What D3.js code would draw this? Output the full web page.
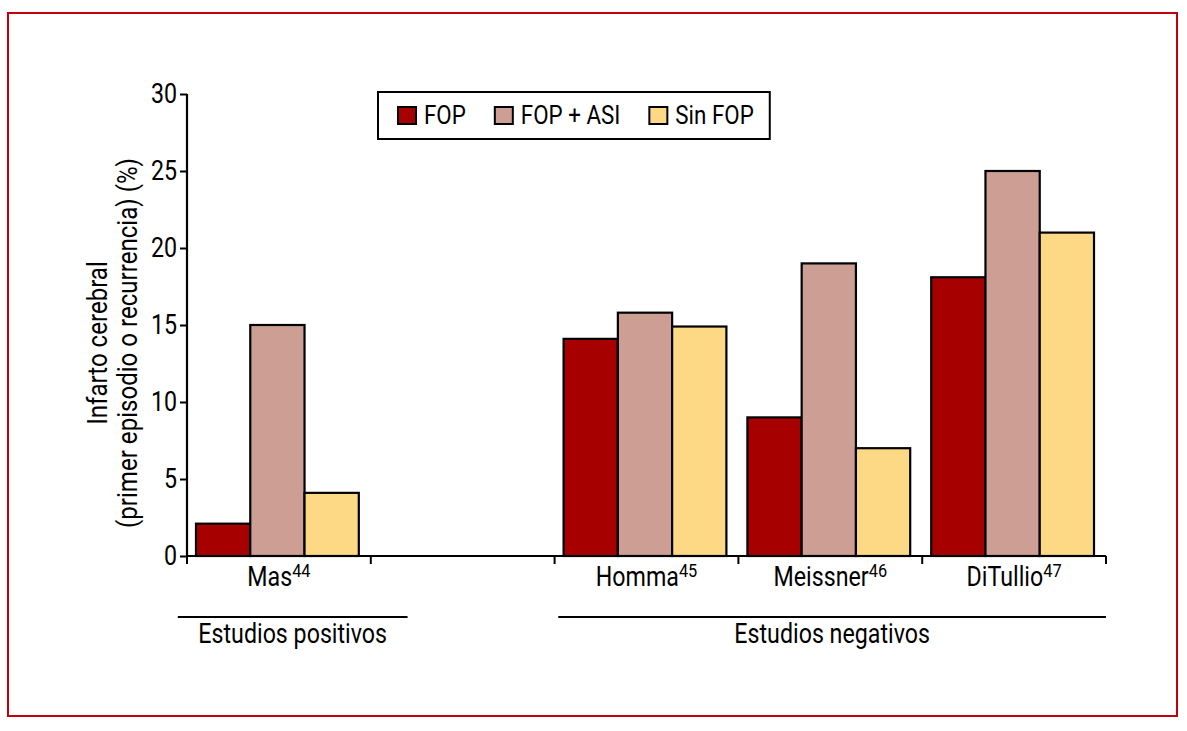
<!DOCTYPE html>
<html>
<head>
<meta charset="utf-8">
<script src="https://cdn.jsdelivr.net/npm/d3@7"></script>
<style>
  body { margin: 0; background: #fff; }
  svg text { font-family: 'Roboto', 'Liberation Sans', sans-serif; font-weight: 400; fill: #000; }
</style>
</head>
<body>
<svg id="chart"></svg>
<script>
// datos del gráfico
const studies = ['Mas', '', 'Homma', 'Meissner', 'DiTullio'];
const studyRefs = ['44', '', '45', '46', '47'];
const seriesNames = ['FOP', 'FOP + ASI', 'Sin FOP'];
const fopValues = [2.1, null, 14.1, 9, 18.1];
const fopAsiValues = [15, null, 15.8, 19, 25];
const sinFopValues = [4.1, null, 14.9, 7, 21];
const yTicks = [0, 5, 10, 15, 20, 25, 30];
const groupLabels = ['Estudios positivos', 'Estudios negativos'];
const groupSpans = [[-0.05, 1.2], [2.02, 5.0]]; // en unidades de banda

const colors = ['#a60000', '#cc9e94', '#fed985'];
const W = 1187, H = 731;
const margin = { left: 187, right: 81, top: 94, bottom: 175 };
const SX = 0.86; // estrechar la fuente (tipo condensada)

const svg = d3.select('#chart').attr('width', W).attr('height', H);

// texto condensado: se escala solo en horizontal
function addText(parent, x, yPos, str, size, anchor) {
    return parent.append('text')
        .attr('transform', `translate(${x},${yPos}) scale(${SX},1)`)
        .attr('text-anchor', anchor || 'middle')
        .style('font-size', size + 'px')
        .text(str);
}

// marco rojo
svg.append('rect')
    .attr('x', 8).attr('y', 13)
    .attr('width', 1169).attr('height', 703)
    .attr('fill', 'none')
    .attr('stroke', '#c0000f')
    .attr('stroke-width', 2);

const x0 = d3.scaleBand()
    .domain(studies)
    .range([margin.left, W - margin.right])
    .padding(0);
const bw = x0.bandwidth();

const x1 = d3.scaleBand()
    .domain(seriesNames)
    .range([9, bw - 12])
    .padding(0);

const y = d3.scaleLinear()
    .domain([0, 30])
    .range([H - margin.bottom, margin.top]);

const allSeries = [fopValues, fopAsiValues, sinFopValues];

// barras
studies.forEach((s, i) => {
    const g = svg.append('g').attr('transform', `translate(${x0(s)},0)`);
    seriesNames.forEach((name, j) => {
        const v = allSeries[j][i];
        if (v == null) return;
        g.append('rect')
            .attr('x', x1(name))
            .attr('y', y(v))
            .attr('width', x1.bandwidth())
            .attr('height', y(0) - y(v))
            .attr('fill', colors[j])
            .attr('stroke', '#000')
            .attr('stroke-width', 2.2);
    });
});

// eje Y
const yAxis = svg.append('g')
    .attr('transform', `translate(${margin.left},0)`)
    .call(d3.axisLeft(y).tickValues(yTicks).tickSize(7).tickPadding(3));
yAxis.select('.domain').attr('stroke-width', 2.2).attr('d', `M0,${y(30)}V${y(0)}`);
yAxis.selectAll('.tick line').attr('stroke-width', 2);
yAxis.selectAll('.tick text')
    .attr('x', -10 / SX)
    .attr('transform', `scale(${SX},1)`)
    .style('font-size', '27px');

// eje X
const xEdges = studies.map(s => x0(s)).concat([x0(studies[studies.length - 1]) + bw]);
svg.append('line')
    .attr('x1', margin.left).attr('x2', xEdges[xEdges.length - 1])
    .attr('y1', y(0)).attr('y2', y(0))
    .attr('stroke', '#000').attr('stroke-width', 2.2);
svg.selectAll('.xtick')
    .data(xEdges)
    .enter().append('line')
    .attr('class', 'xtick')
    .attr('x1', d => d).attr('x2', d => d)
    .attr('y1', y(0)).attr('y2', y(0) + 8)
    .attr('stroke', '#000').attr('stroke-width', 2);

// etiquetas de estudio con superíndice
studies.forEach((s, i) => {
    if (!s) return;
    const t = addText(svg, x0(s) + bw / 2, y(0) + 30, null, 27);
    t.append('tspan').text(s);
    t.append('tspan')
        .text(studyRefs[i])
        .attr('dy', -9)
        .style('font-size', '19px');
});

// grupos de estudios
groupLabels.forEach((label, i) => {
    const xa = margin.left + groupSpans[i][0] * bw;
    const xb = margin.left + groupSpans[i][1] * bw;
    svg.append('line')
        .attr('x1', xa).attr('x2', xb)
        .attr('y1', y(0) + 61).attr('y2', y(0) + 61)
        .attr('stroke', '#000').attr('stroke-width', 2);
    addText(svg, (xa + xb) / 2, y(0) + 87, label, 27);
});

// título del eje Y
const yLabel = svg.append('text')
    .attr('transform', `translate(107,343) rotate(-90) scale(${SX},1)`)
    .attr('text-anchor', 'middle')
    .style('font-size', '28px');
yLabel.append('tspan').attr('x', 0).attr('dy', 0).text('Infarto cerebral');
yLabel.append('tspan').attr('x', 0).attr('dy', 30).text('(primer episodio o recurrencia) (%)');

// leyenda
const legend = svg.append('g').attr('transform', 'translate(378,92)');
const legendBg = legend.append('rect')
    .attr('height', 47)
    .attr('fill', '#fff')
    .attr('stroke', '#000')
    .attr('stroke-width', 2);
let lx = 20;
seriesNames.forEach((name, j) => {
    legend.append('rect')
        .attr('x', lx).attr('y', 15)
        .attr('width', 18).attr('height', 17)
        .attr('fill', colors[j])
        .attr('stroke', '#000')
        .attr('stroke-width', 2);
    const txt = addText(legend, lx + 26, 32, name, 26, 'start');
    lx += 26 + txt.node().getComputedTextLength() * SX + 29;
});
legendBg.attr('width', lx - 29 + 16);
</script>
</body>
</html>
